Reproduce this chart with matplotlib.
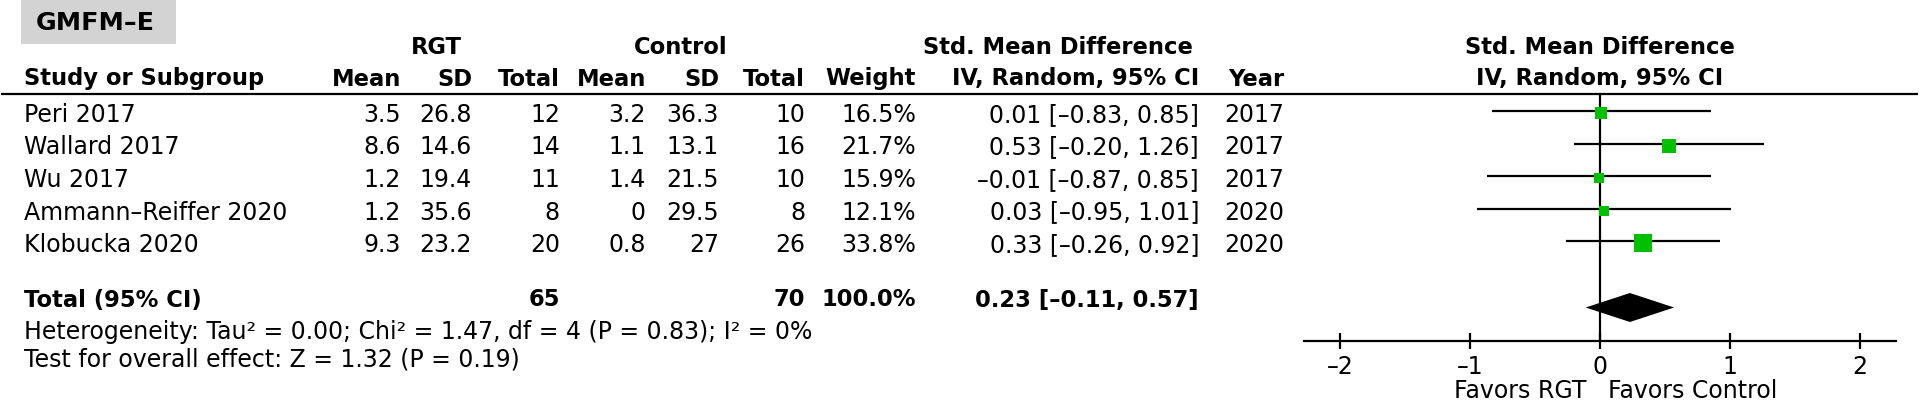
import matplotlib
matplotlib.use("Agg")
import matplotlib.pyplot as plt
from matplotlib.patches import Rectangle
from matplotlib.ticker import FuncFormatter

# data
studies = ["Peri 2017", "Wallard 2017", "Wu 2017", "Ammann\u2013Reiffer 2020", "Klobucka 2020"]
rgt_mean = [3.5, 8.6, 1.2, 1.2, 9.3]
rgt_sd = [26.8, 14.6, 19.4, 35.6, 23.2]
rgt_n = [12, 14, 11, 8, 20]
ctl_mean = [3.2, 1.1, 1.4, 0, 0.8]
ctl_sd = [36.3, 13.1, 21.5, 29.5, 27]
ctl_n = [10, 16, 10, 8, 26]
weight = [16.5, 21.7, 15.9, 12.1, 33.8]
smd = [0.01, 0.53, -0.01, 0.03, 0.33]
ci_lo = [-0.83, -0.20, -0.87, -0.95, -0.26]
ci_hi = [0.85, 1.26, 0.85, 1.01, 0.92]
years = [2017, 2017, 2017, 2020, 2020]

total_rgt_n = 65
total_ctl_n = 70
total_weight = 100.0
total_smd = 0.23
total_lo = -0.11
total_hi = 0.57

heterogeneity = "Heterogeneity: Tau\u00b2 = 0.00; Chi\u00b2 = 1.47, df = 4 (P = 0.83); I\u00b2 = 0%"
overall = "Test for overall effect: Z = 1.32 (P = 0.19)"
xticks = [-2, -1, 0, 1, 2]

W, H = 1920, 400
FS = 17      # regular text
FSB = 16.3   # bold text
GREEN = "#00c000"


def num(v, fmt="{:g}"):
    return fmt.format(v).replace("-", "\u2013")


def ci_text(e, lo, hi):
    return num(e, "{:.2f}") + " [" + num(lo, "{:.2f}") + ", " + num(hi, "{:.2f}") + "]"


fig = plt.figure(figsize=(W / 100, H / 100), dpi=100)
plt.rcParams["font.family"] = ["DejaVu Sans"]

# text layer in pixel coordinates
tx = fig.add_axes([0, 0, 1, 1])
tx.set_xlim(0, W)
tx.set_ylim(H, 0)
tx.axis("off")


def t(x, y, s, ha="right", bold=False, size=None):
    if size is None:
        size = FSB if bold else FS
    tx.text(x, y + 2, s, ha=ha, va="center", fontsize=size,
            fontweight="bold" if bold else "normal", color="black")


# subgroup label box
tx.add_patch(Rectangle((21, 0), 155, 44, facecolor="#d3d3d3", edgecolor="none"))
t(95, 21, "GMFM\u2013E", ha="center", bold=True, size=18.3)

# column right edges
x_name = 24
x_rm, x_rs, x_rn = 401, 472, 560
x_cm, x_cs, x_cn = 646, 719, 805
x_w, x_ci, x_yr = 916, 1199, 1284

y_grp, y_sub, y_line = 45, 77, 93.5
rows_y = [113, 145.5, 178, 210.5, 243]
y_tot, y_het, y_test = 298, 330, 357

t(436, y_grp, "RGT", ha="center", bold=True)
t(681, y_grp, "Control", ha="center", bold=True)
t(1058, y_grp, "Std. Mean Difference", ha="center", bold=True)
t(1600, y_grp, "Std. Mean Difference", ha="center", bold=True)

t(x_name, y_sub, "Study or Subgroup", ha="left", bold=True)
for x, s in [(x_rm, "Mean"), (x_rs, "SD"), (x_rn, "Total"), (x_cm, "Mean"),
             (x_cs, "SD"), (x_cn, "Total"), (x_w, "Weight"),
             (x_ci, "IV, Random, 95% CI"), (x_yr, "Year")]:
    t(x, y_sub, s, bold=True)
t(1600, y_sub, "IV, Random, 95% CI", ha="center", bold=True)

tx.plot([1, 1918], [y_line, y_line], color="black", lw=1.6, solid_capstyle="butt")

for i, y in enumerate(rows_y):
    t(x_name, y, studies[i], ha="left")
    t(x_rm, y, num(rgt_mean[i]))
    t(x_rs, y, num(rgt_sd[i]))
    t(x_rn, y, str(rgt_n[i]))
    t(x_cm, y, num(ctl_mean[i]))
    t(x_cs, y, num(ctl_sd[i]))
    t(x_cn, y, str(ctl_n[i]))
    t(x_w, y, "{:.1f}%".format(weight[i]))
    t(x_ci, y, ci_text(smd[i], ci_lo[i], ci_hi[i]))
    t(x_yr, y, str(years[i]))

t(x_name, y_tot, "Total (95% CI)", ha="left", bold=True)
t(x_rn, y_tot, str(total_rgt_n), bold=True)
t(x_cn, y_tot, str(total_ctl_n), bold=True)
t(x_w, y_tot, "{:.1f}%".format(total_weight), bold=True)
t(x_ci, y_tot, ci_text(total_smd, total_lo, total_hi), bold=True)
t(x_name, y_het, heterogeneity, ha="left")
t(x_name, y_test, overall, ha="left")

t(1587, 389, "Favors RGT", ha="right")
t(1608, 389, "Favors Control", ha="left")

# forest panel: x in effect units, y in pixels from the top
y_axis = 340.5
ax = fig.add_axes([1303.6 / W, (H - y_axis) / H, 592.8 / W, y_axis / H])
ax.patch.set_alpha(0)
ax.set_xlim(-2.28, 2.28)
ax.set_ylim(y_axis, 0)
for s in ["top", "left", "right"]:
    ax.spines[s].set_visible(False)
ax.spines["bottom"].set_linewidth(1.6)
ax.set_yticks([])
ax.set_xticks(xticks)
ax.xaxis.set_major_formatter(FuncFormatter(lambda v, p: num(v, "{:.0f}")))
ax.tick_params(axis="x", direction="inout", length=11.5, width=1.6,
               labelsize=FS, pad=4.5)

ax.vlines(0, y_line, y_axis, color="black", lw=1.6)
ax.hlines([y - 2 for y in rows_y], ci_lo, ci_hi, color="black", lw=1.6)
sizes = [(4.5 + 0.4 * w) * 0.72 for w in weight]
for e, y, ms in zip(smd, rows_y, sizes):
    ax.plot(e, y, marker="s", ms=ms, color=GREEN, mec=GREEN, mew=0, zorder=3)

yd = 307.5
ax.fill([total_lo, total_smd, total_hi, total_smd], [yd, yd - 14.5, yd, yd + 14.5],
        color="black", lw=0)

fig.savefig("out.png", dpi=100)
